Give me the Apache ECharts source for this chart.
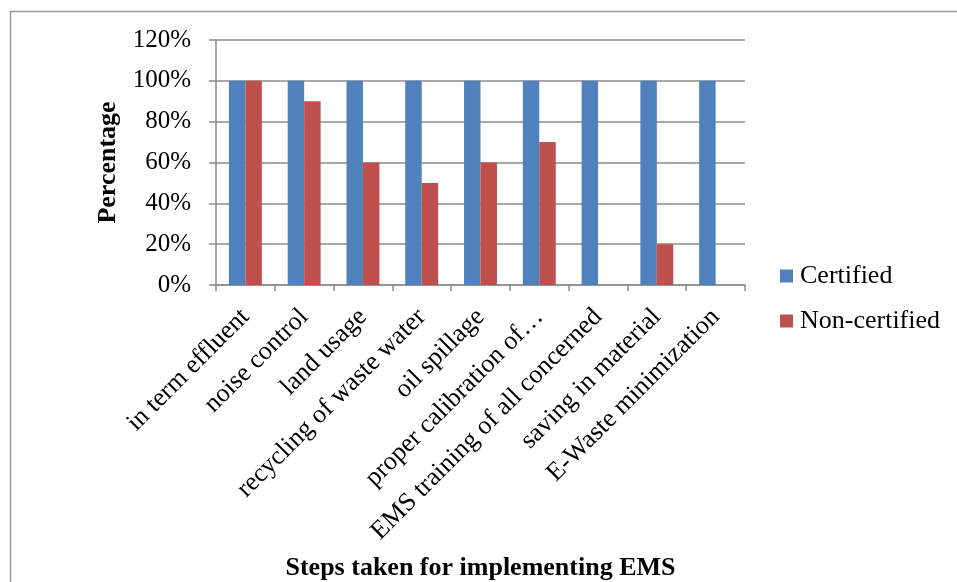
<!DOCTYPE html>
<html>
<head>
<meta charset="utf-8">
<script src="https://cdn.jsdelivr.net/npm/echarts@6/dist/echarts.min.js"></script>
<style>
  html, body { margin: 0; padding: 0; background: #fff; }
  #chart { width: 957px; height: 582px; }
</style>
</head>
<body>
<div id="chart"></div>
<script>
// Steps taken for implementing EMS, certified vs non-certified firms
const categories = [
  'in term effluent',
  'noise control',
  'land usage',
  'recycling of waste water',
  'oil spillage',
  'proper calibration of\u2026',
  'EMS training of all concerned',
  'saving in material',
  'E-Waste minimization'
];
const certified    = [1.0, 1.0, 1.0, 1.0, 1.0, 1.0, 1.0, 1.0, 1.0];
const nonCertified = [1.0, 0.9, 0.6, 0.5, 0.6, 0.7, 0, 0.2, 0];
const yTicks = { min: 0, max: 1.2, step: 0.2 };

const serif = '"Liberation Serif", "Times New Roman", serif';
const gridColor = '#8c8c8c';

const chart = echarts.init(document.getElementById('chart'), null, { renderer: 'canvas' });

chart.setOption({
  backgroundColor: '#fff',
  animation: false,
  textStyle: { fontFamily: serif, color: '#000' },
  graphic: [{
    type: 'rect',
    shape: { x: 10.5, y: 11.5, width: 1000, height: 1000 },
    style: { fill: 'none', stroke: '#999', lineWidth: 1.5 },
    silent: true,
    z: -1
  }],
  grid: { left: 216, top: 40, right: 212, bottom: 297, containLabel: false },
  legend: {
    orient: 'vertical',
    left: 775,
    top: 258,
    itemWidth: 13,
    itemHeight: 13,
    itemGap: 19,
    icon: 'rect',
    textStyle: { fontFamily: serif, fontSize: 26, color: '#000', padding: [0, 0, 0, 2] },
    data: ['Certified', 'Non-certified']
  },
  xAxis: {
    type: 'category',
    data: categories,
    name: 'Steps taken for implementing EMS',
    nameLocation: 'middle',
    nameGap: 270,
    nameTextStyle: { fontFamily: serif, fontSize: 26, fontWeight: 'bold', color: '#000' },
    axisLine: { show: true, lineStyle: { color: gridColor, width: 1.5 } },
    axisTick: { show: true, length: 6, lineStyle: { color: gridColor, width: 1.5 } },
    axisLabel: {
      rotate: 45,
      interval: 0,
      margin: 28,
      fontFamily: serif,
      fontSize: 26,
      color: '#000'
    },
    splitLine: { show: false }
  },
  yAxis: {
    type: 'value',
    min: yTicks.min,
    max: yTicks.max,
    interval: yTicks.step,
    name: 'Percentage',
    nameLocation: 'middle',
    nameGap: 85,
    nameRotate: 90,
    nameTextStyle: { fontFamily: serif, fontSize: 26, fontWeight: 'bold', color: '#000' },
    axisLine: { show: true, lineStyle: { color: gridColor, width: 1.5 } },
    axisTick: { show: true, length: 7, inside: false, lineStyle: { color: gridColor, width: 1.5 } },
    axisLabel: {
      margin: 25,
      fontFamily: serif,
      fontSize: 25,
      color: '#000',
      formatter: v => Math.round(v * 100) + '%'
    },
    splitLine: { show: true, lineStyle: { color: gridColor, width: 1.5 } }
  },
  series: [
    {
      name: 'Certified',
      type: 'bar',
      data: certified,
      barGap: '0%',
      barCategoryGap: '44%',
      itemStyle: { color: '#4F81BD' }
    },
    {
      name: 'Non-certified',
      type: 'bar',
      data: nonCertified,
      barGap: '0%',
      barCategoryGap: '44%',
      itemStyle: { color: '#C0504D' }
    }
  ]
});
</script>
</body>
</html>
